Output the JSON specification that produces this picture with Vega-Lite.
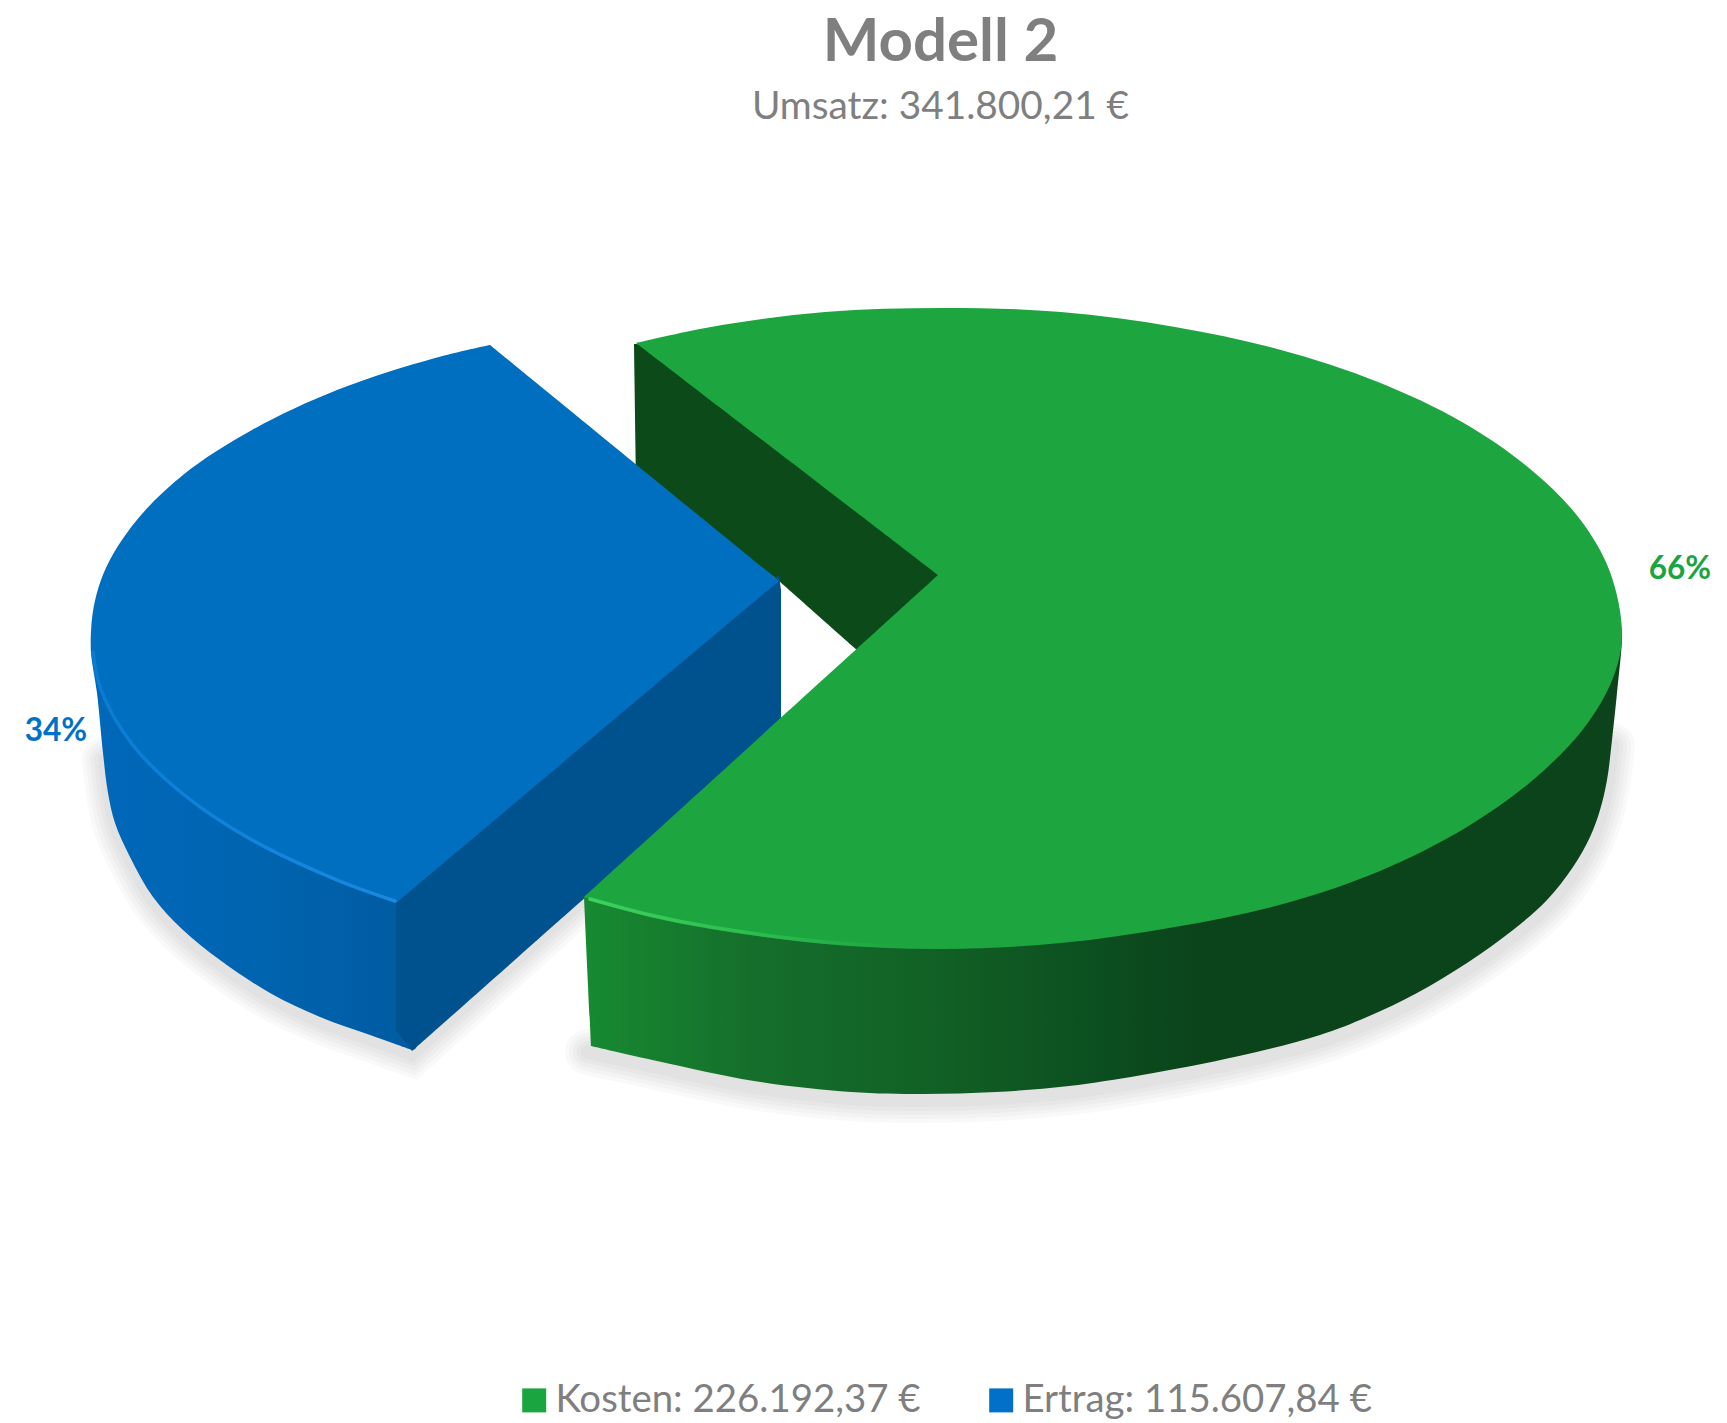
{
"$schema":"https://vega.github.io/schema/vega-lite/v6.json",
"width":1727,"height":1423,"autosize":"none","padding":0,"background":"white",
"title":{"text":"Modell 2","subtitle":"Umsatz: 341.800,21 €","anchor":"middle","frame":"group","dx":77,"offset":-128,"font":"Lato","fontSize":60,"fontWeight":"bold","color":"#7f7f7f","subtitleFont":"Lato","subtitleFontSize":38.8,"subtitleColor":"#7f7f7f","subtitlePadding":14},
"config":{"view":{"stroke":null}},
"datasets":{
"blueTop":[{"x":490,"y":345},{"x":490,"y":345},{"x":435,"y":358},{"x":337,"y":390},{"x":252,"y":430},{"x":183,"y":475},{"x":132,"y":526},{"x":101,"y":580},{"x":91,"y":636},{"x":101,"y":692},{"x":132,"y":746},{"x":183,"y":796},{"x":252,"y":842},{"x":337,"y":882},{"x":396,"y":903},{"x":396,"y":903},{"x":779,"y":581},{"x":779,"y":581},{"x":490,"y":345},{"x":490,"y":345}],
"blueWall":[{"x":91,"y":630},{"x":91,"y":630},{"x":132,"y":730},{"x":183,"y":780},{"x":252,"y":826},{"x":337,"y":866},{"x":400,"y":890},{"x":400,"y":890},{"x":416,"y":1048},{"x":412,"y":1050},{"x":412,"y":1050},{"x":370,"y":1035},{"x":320,"y":1017},{"x":270,"y":993},{"x":220,"y":960},{"x":183,"y":930},{"x":153,"y":897},{"x":130,"y":857},{"x":115,"y":823},{"x":108,"y":793},{"x":103,"y":753},{"x":97,"y":693},{"x":91,"y":653},{"x":91,"y":630},{"x":91,"y":630}],
"blueCut":[{"x":396,"y":895},{"x":396,"y":895},{"x":779,"y":575},{"x":779,"y":575},{"x":781,"y":590},{"x":781,"y":590},{"x":781,"y":724},{"x":781,"y":724},{"x":412,"y":1051},{"x":412,"y":1051},{"x":396,"y":1030},{"x":396,"y":1030},{"x":396,"y":895},{"x":396,"y":895}],
"blueShadow":[{"x":103,"y":759},{"x":108,"y":799},{"x":115,"y":829},{"x":130,"y":863},{"x":153,"y":903},{"x":183,"y":936},{"x":220,"y":966},{"x":270,"y":999},{"x":320,"y":1023},{"x":370,"y":1041},{"x":412,"y":1056},{"x":412,"y":1056},{"x":600,"y":886},{"x":600,"y":886}],
"blueRim":[{"x":93,"y":652},{"x":101,"y":690},{"x":132,"y":744},{"x":183,"y":794},{"x":252,"y":840},{"x":337,"y":880},{"x":395,"y":901}],
"greenInner":[{"x":634,"y":344},{"x":634,"y":344},{"x":660,"y":345},{"x":660,"y":345},{"x":945,"y":575},{"x":945,"y":575},{"x":857,"y":650},{"x":857,"y":650},{"x":779,"y":581},{"x":779,"y":581},{"x":636,"y":470},{"x":636,"y":470},{"x":634,"y":344},{"x":634,"y":344}],
"greenWall":[{"x":584,"y":897},{"x":584,"y":897},{"x":600,"y":895},{"x":600,"y":895},{"x":711,"y":915},{"x":943,"y":935},{"x":1175,"y":915},{"x":1380,"y":858},{"x":1533,"y":768},{"x":1613,"y":666},{"x":1622,"y":625},{"x":1622,"y":625},{"x":1622,"y":640},{"x":1617,"y":693},{"x":1612,"y":740},{"x":1607,"y":780},{"x":1600,"y":810},{"x":1590,"y":837},{"x":1573,"y":867},{"x":1547,"y":900},{"x":1513,"y":930},{"x":1467,"y":963},{"x":1417,"y":993},{"x":1367,"y":1017},{"x":1320,"y":1035},{"x":1239,"y":1056},{"x":1142,"y":1075},{"x":1069,"y":1086},{"x":996,"y":1092},{"x":923,"y":1094},{"x":851,"y":1092},{"x":754,"y":1081},{"x":657,"y":1061},{"x":591,"y":1046},{"x":591,"y":1046},{"x":584,"y":897},{"x":584,"y":897}],
"greenShadow":[{"x":588,"y":1052},{"x":657,"y":1067},{"x":754,"y":1087},{"x":851,"y":1098},{"x":923,"y":1100},{"x":996,"y":1098},{"x":1069,"y":1092},{"x":1142,"y":1081},{"x":1239,"y":1062},{"x":1320,"y":1041},{"x":1367,"y":1023},{"x":1417,"y":999},{"x":1467,"y":969},{"x":1513,"y":936},{"x":1547,"y":906},{"x":1573,"y":873},{"x":1590,"y":843},{"x":1600,"y":816},{"x":1607,"y":786},{"x":1612,"y":746}],
"greenRim":[{"x":590,"y":899},{"x":650,"y":915},{"x":711,"y":927},{"x":825,"y":942},{"x":900,"y":946}],
"greenTop":[{"x":636,"y":343},{"x":636,"y":343},{"x":711,"y":327},{"x":825,"y":312},{"x":943,"y":308},{"x":1061,"y":312},{"x":1175,"y":327},{"x":1281,"y":350},{"x":1378,"y":382},{"x":1462,"y":422},{"x":1529,"y":468},{"x":1579,"y":518},{"x":1610,"y":572},{"x":1622,"y":635},{"x":1613,"y":678},{"x":1584,"y":728},{"x":1533,"y":780},{"x":1467,"y":827},{"x":1380,"y":871},{"x":1283,"y":904},{"x":1175,"y":927},{"x":1061,"y":943},{"x":943,"y":949},{"x":825,"y":944},{"x":711,"y":929},{"x":650,"y":917},{"x":584,"y":897},{"x":584,"y":897},{"x":938,"y":575},{"x":938,"y":575},{"x":636,"y":343},{"x":636,"y":343}],
"labels":[{"x":1680,"y":570,"share":"66%","series":"Kosten: 226.192,37 €","betrag":226192.37},{"x":56,"y":732,"share":"34%","series":"Ertrag: 115.607,84 €","betrag":115607.84}]
},
"encoding":{
"x":{"field":"x","type":"quantitative","scale":{"domain":[0,1727],"nice":false,"zero":false},"axis":null},
"y":{"field":"y","type":"quantitative","scale":{"domain":[1423,0],"nice":false,"zero":false},"axis":null},
"order":{"value":null}
},
"layer":[
{"data":{"name":"blueShadow"},"mark":{"type":"line","stroke":"#808080","strokeWidth":42,"opacity":0.05,"strokeCap":"round","interpolate":"catmull-rom"}},
{"data":{"name":"blueShadow"},"mark":{"type":"line","stroke":"#808080","strokeWidth":34,"opacity":0.05,"strokeCap":"round","interpolate":"catmull-rom"}},
{"data":{"name":"blueShadow"},"mark":{"type":"line","stroke":"#808080","strokeWidth":26,"opacity":0.05,"strokeCap":"round","interpolate":"catmull-rom"}},
{"data":{"name":"blueShadow"},"mark":{"type":"line","stroke":"#808080","strokeWidth":18,"opacity":0.05,"strokeCap":"round","interpolate":"catmull-rom"}},
{"data":{"name":"blueShadow"},"mark":{"type":"line","stroke":"#808080","strokeWidth":10,"opacity":0.05,"strokeCap":"round","interpolate":"catmull-rom"}},
{"data":{"name":"greenShadow"},"mark":{"type":"line","stroke":"#808080","strokeWidth":46,"opacity":0.05,"strokeCap":"round","interpolate":"catmull-rom"}},
{"data":{"name":"greenShadow"},"mark":{"type":"line","stroke":"#808080","strokeWidth":38,"opacity":0.05,"strokeCap":"round","interpolate":"catmull-rom"}},
{"data":{"name":"greenShadow"},"mark":{"type":"line","stroke":"#808080","strokeWidth":30,"opacity":0.05,"strokeCap":"round","interpolate":"catmull-rom"}},
{"data":{"name":"greenShadow"},"mark":{"type":"line","stroke":"#808080","strokeWidth":22,"opacity":0.05,"strokeCap":"round","interpolate":"catmull-rom"}},
{"data":{"name":"greenShadow"},"mark":{"type":"line","stroke":"#808080","strokeWidth":14,"opacity":0.05,"strokeCap":"round","interpolate":"catmull-rom"}},
{"data":{"name":"greenInner"},"mark":{"type":"line","fill":"#0c4a19","stroke":null,"interpolate":"catmull-rom"}},
{"data":{"name":"blueWall"},"mark":{"type":"line","stroke":null,"interpolate":"catmull-rom","fill":{"gradient":"linear","x1":0,"x2":1,"y1":0,"y2":0,"stops":[{"offset":0,"color":"#0068ba"},{"offset":0.5,"color":"#0064b0"},{"offset":1,"color":"#005ba1"}]}}},
{"data":{"name":"blueCut"},"mark":{"type":"line","fill":"#00528f","stroke":null,"interpolate":"catmull-rom"}},
{"data":{"name":"blueTop"},"mark":{"type":"line","fill":"#006fc0","stroke":null,"interpolate":"catmull-rom"}},
{"data":{"name":"blueRim"},"mark":{"type":"line","strokeWidth":3.5,"strokeCap":"round","interpolate":"catmull-rom","stroke":{"gradient":"linear","x1":0,"x2":1,"y1":0,"y2":0,"stops":[{"offset":0,"color":"#0a7cd2"},{"offset":1,"color":"#1a8ae0"}]}}},
{"data":{"name":"greenWall"},"mark":{"type":"line","stroke":null,"interpolate":"catmull-rom","fill":{"gradient":"linear","x1":0,"x2":1,"y1":0,"y2":0,"stops":[{"offset":0,"color":"#178a32"},{"offset":0.16,"color":"#156f2b"},{"offset":0.35,"color":"#115f25"},{"offset":0.49,"color":"#0c4f20"},{"offset":0.6,"color":"#0b431a"},{"offset":1,"color":"#0c431b"}]}}},
{"data":{"name":"greenTop"},"mark":{"type":"line","fill":"#1da540","stroke":null,"interpolate":"catmull-rom"}},
{"data":{"name":"greenRim"},"mark":{"type":"line","strokeWidth":3.5,"strokeCap":"round","interpolate":"catmull-rom","stroke":{"gradient":"linear","x1":0,"x2":1,"y1":0,"y2":0,"stops":[{"offset":0,"color":"#3ed15f"},{"offset":0.6,"color":"#2bb94d"},{"offset":1,"color":"#1da540"}]}}},
{"data":{"name":"labels"},"mark":{"type":"text","font":"Lato","fontWeight":"bold","fontSize":31.5,"align":"center","baseline":"middle"},
 "encoding":{"text":{"field":"share"},"color":{"field":"series","type":"nominal","sort":null,"scale":{"domain":["Kosten: 226.192,37 €","Ertrag: 115.607,84 €"],"range":["#1aa540","#0070c8"]},
 "legend":{"title":null,"orient":"none","legendX":515,"legendY":1381,"direction":"horizontal","columns":2,"symbolType":"square","symbolSize":576,"symbolStrokeWidth":0,"labelFont":"Lato","labelFontSize":38.4,"labelColor":"#7f7f7f","labelLimit":500,"columnPadding":61,"labelOffset":2,
 "encoding":{"symbols":{"fill":{"condition":{"test":"datum.value === 'Kosten: 226.192,37 €'","value":{"gradient":"linear","x1":0,"x2":0,"y1":0,"y2":1,"stops":[{"offset":0,"color":"#27b24e"},{"offset":0.5,"color":"#0e5a25"},{"offset":1,"color":"#27a84a"}]}},"value":{"gradient":"linear","x1":0,"x2":0,"y1":0,"y2":1,"stops":[{"offset":0,"color":"#0f7fd0"},{"offset":0.5,"color":"#00406f"},{"offset":1,"color":"#0e70b8"}]}}}}}}}}
]
}
